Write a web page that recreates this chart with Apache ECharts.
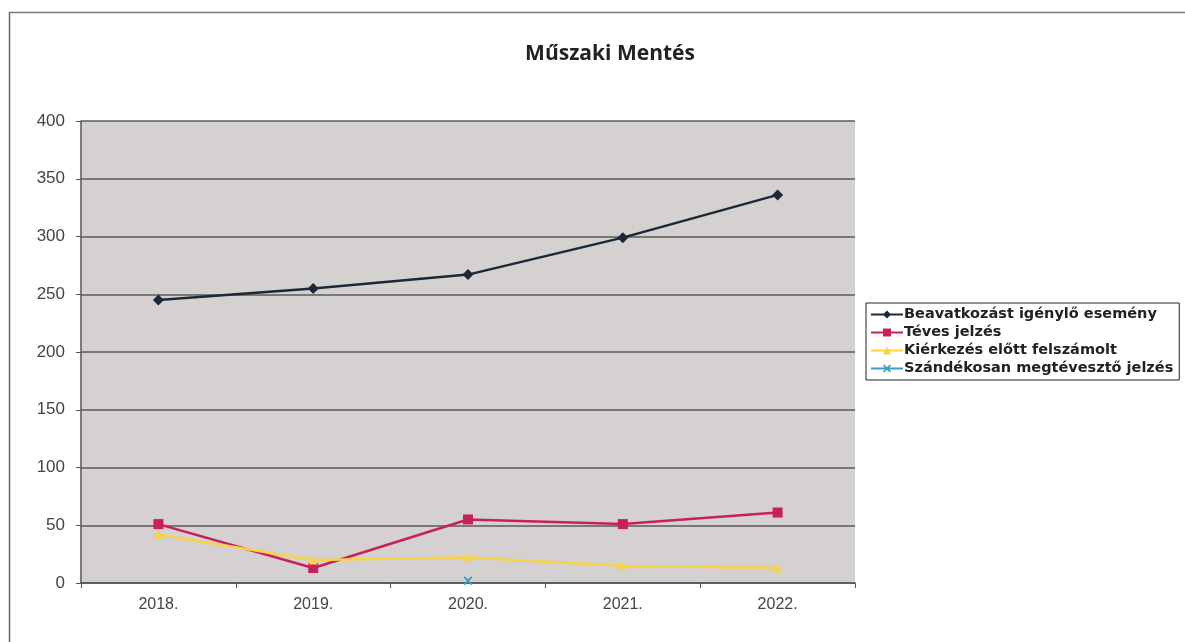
<!DOCTYPE html>
<html><head><meta charset="utf-8">
<script src="https://cdn.jsdelivr.net/npm/echarts@6/dist/echarts.min.js"></script>
<style>html,body{margin:0;padding:0;background:#fff}#c{width:1185px;height:642px}</style>
</head><body><div id="c"></div>
<script>
const categories = ['2018.', '2019.', '2020.', '2021.', '2022.'];
const beavatkozas = [245, 255, 267, 299, 336];
const teves = [51, 13, 55, 51, 61];
const kierkezes = [42, 20, 22, 15, 13];
const szandekosan = [null, null, 2, null, null];
const seriesNames = ['Beavatkozást igénylő esemény', 'Téves jelzés', 'Kiérkezés előtt felszámolt', 'Szándékosan megtévesztő jelzés'];
const yTicks = [0, 50, 100, 150, 200, 250, 300, 350, 400];

const xPath = 'path://M0,1.5L1.5,0L5,3.5L8.5,0L10,1.5L6.5,5L10,8.5L8.5,10L5,6.5L1.5,10L0,8.5L3.5,5Z';

const chart = echarts.init(document.getElementById('c'), null, {renderer: 'canvas'});
chart.setOption({
  animation: false,
  backgroundColor: '#fff',
  title: {
    text: 'Műszaki Mentés', left: 605, top: 39, textAlign: 'center',
    textStyle: {fontFamily: 'Open Sans', fontWeight: 'bold', fontSize: 21, color: '#222'}
  },
  graphic: [
    {type: 'line', shape: {x1: 9.5, y1: 12, x2: 9.5, y2: 642}, style: {stroke: '#666', lineWidth: 1.5}},
    {type: 'line', shape: {x1: 9, y1: 12.5, x2: 1185, y2: 12.5}, style: {stroke: '#777', lineWidth: 1.5}}
  ],
  legend: {
    orient: 'vertical', left: 866, top: 303,
    itemGap: 3, itemWidth: 32, itemHeight: 10,
    padding: [4, 6, 4, 4],
    borderColor: '#222', borderWidth: 1,
    textStyle: {fontFamily: 'DejaVu Sans', fontWeight: 'bold', fontSize: 14.5, lineHeight: 15, color: '#222', padding: [0, 0, 0, -4]},
    data: seriesNames
  },
  grid: {left: 81, right: 330, top: 121, bottom: 59},
  xAxis: {
    type: 'category', data: categories, boundaryGap: true,
    axisLine: {lineStyle: {color: '#555', width: 1.5}},
    axisTick: {show: true, lineStyle: {color: '#555'}, length: 5},
    axisLabel: {fontFamily: 'Liberation Sans', fontSize: 16, color: '#444', margin: 14}
  },
  yAxis: {
    type: 'value', min: 0, max: 400, interval: 50,
    axisLine: {show: true, lineStyle: {color: '#555', width: 1.5}},
    axisTick: {show: true, lineStyle: {color: '#555'}, length: 5},
    axisLabel: {fontFamily: 'Liberation Sans', fontSize: 17, color: '#444', margin: 16,
      formatter: v => yTicks.includes(v) ? String(v) : ''},
    splitLine: {lineStyle: {color: '#5a5a5a', width: 1.5}},
    splitArea: {show: true, areaStyle: {color: ['#d5d1d1', '#d5d1d1']}}
  },
  series: [
    {name: seriesNames[0], type: 'line', data: beavatkozas, symbol: 'diamond', symbolSize: 11,
      itemStyle: {color: '#1b2838'}, lineStyle: {color: '#1b2838', width: 2.5}},
    {name: seriesNames[1], type: 'line', data: teves, symbol: 'rect', symbolSize: 10,
      itemStyle: {color: '#c8205a'}, lineStyle: {color: '#c8205a', width: 2.5}},
    {name: seriesNames[2], type: 'line', data: kierkezes, symbol: 'triangle', symbolSize: 9,
      itemStyle: {color: '#f7d348'}, lineStyle: {color: '#f7d348', width: 2.5}},
    {name: seriesNames[3], type: 'line', data: szandekosan, symbol: xPath, symbolSize: 9,
      itemStyle: {color: '#3a9ec0'}, lineStyle: {color: '#3a9ec0', width: 2.5}}
  ]
});
</script></body></html>
